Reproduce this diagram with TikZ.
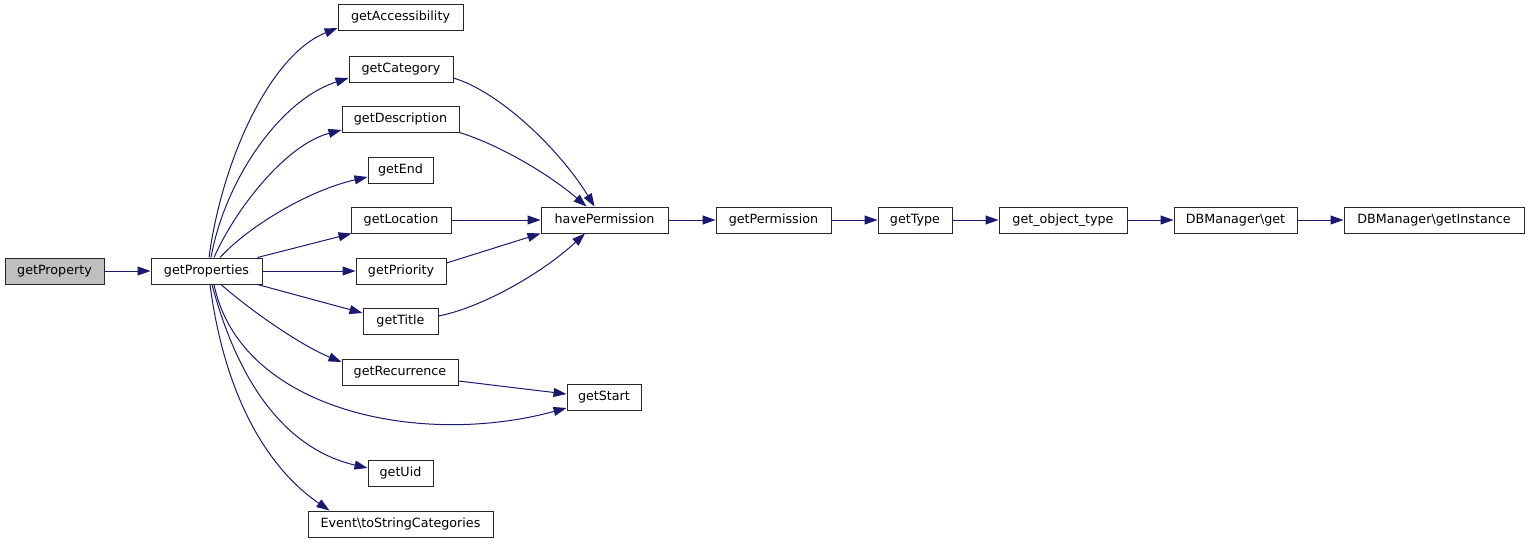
\documentclass[tikz,border=0pt]{standalone}
\usepackage{fontspec}
\setmainfont{DejaVu Sans}
\usetikzlibrary{arrows.meta,calc}
\definecolor{edgeblue}{HTML}{191970}
\definecolor{rootgray}{HTML}{BFBFBF}
\tikzset{
  fn/.style={draw=black!85, line width=1pt, rectangle, minimum height=26pt, inner sep=0pt, text height=9.6pt, text depth=2.4pt, font=\fontsize{12.7}{15}\selectfont, fill=white},
  call/.style={draw=edgeblue, line width=1pt, -{Triangle[length=13pt,width=9pt]}, fill=none},
}
\begin{document}
\begin{tikzpicture}[x=1pt,y=-1pt]
\useasboundingbox (0,0) rectangle (1529,544);
\node[fn, fill=rootgray, minimum width=99pt] (gprop) at (54.5,271) {getProperty};
\node[fn, minimum width=111pt] (gps) at (206.5,271) {getProperties};
\node[fn, minimum width=125pt] (gacc) at (400.5,17) {getAccessibility};
\node[fn, minimum width=104pt] (gcat) at (401,69) {getCategory};
\node[fn, minimum width=117pt] (gdesc) at (400.5,119) {getDescription};
\node[fn, minimum width=65pt] (gend) at (400.5,170) {getEnd};
\node[fn, minimum width=100pt] (gloc) at (401,220) {getLocation};
\node[fn, minimum width=90pt] (gpri) at (401,271) {getPriority};
\node[fn, minimum width=75pt] (gtit) at (400.5,321) {getTitle};
\node[fn, minimum width=116pt] (grec) at (400,372) {getRecurrence};
\node[fn, minimum width=74pt] (gstart) at (604,397) {getStart};
\node[fn, minimum width=65pt] (guid) at (400.5,473) {getUid};
\node[fn, minimum width=185pt] (gevt) at (400.5,524) {Event\textbackslash toStringCategories};
\node[fn, minimum width=127pt] (hperm) at (604.5,220) {havePermission};
\node[fn, minimum width=115pt] (gperm) at (773.5,220) {getPermission};
\node[fn, minimum width=74pt] (gtype) at (915,220) {getType};
\node[fn, minimum width=128pt] (gobj) at (1063,220) {get\_object\_type};
\node[fn, minimum width=123pt] (dbget) at (1235.5,220) {DBManager\textbackslash get};
\node[fn, minimum width=180pt] (dbinst) at (1434,220) {DBManager\textbackslash getInstance};

\draw[call] (gprop) -- (gps);
% fan upward
\draw[call] ($(gps.north)+(2.5,0)$) .. controls (222,160) and (270,55) .. ($(gacc.west)+(0,11)$);
\draw[call] ($(gps.north)+(4.5,0)$) .. controls (225,180) and (280,100) .. ($(gcat.west)+(0,9)$);
\draw[call] ($(gps.north)+(7.5,0)$) .. controls (235,210) and (285,145) .. ($(gdesc.west)+(0,11)$);
\draw[call] ($(gps.north)+(13.5,0)$) .. controls (250,225) and (310,190) .. ($(gend.west)+(0,7)$);
\draw[call] ($(gps.north east)+(-5,0)$) -- ($(gloc.south west)+(1,0)$);
\draw[call] (gps.east) -- (gpri.west);
\draw[call] ($(gps.south east)+(-5,0)$) -- ($(gtit.west)+(0,-8)$);
% fan downward
\draw[call] ($(gps.south)+(14.5,0)$) .. controls (250,310) and (300,345) .. ($(grec.west)+(0,-10)$);
\draw[call] ($(gps.south)+(7.5,0)$) .. controls (240,410) and (420,448) .. ($(gstart.west)+(0,11)$);
\draw[call] ($(gps.south)+(5.5,0)$) .. controls (240,390) and (290,450) .. ($(guid.west)+(0,-5)$);
\draw[call] ($(gps.south)+(3.5,0)$) .. controls (225,400) and (270,470) .. ($(gevt.north west)+(22,0)$);
% into havePermission
\draw[call] ($(gcat.east)+(0,9)$) .. controls (500,92) and (560,150) .. ($(hperm.north)+(-10,0)$);
\draw[call] (gdesc.south east) .. controls (500,145) and (550,175) .. ($(hperm.north)+(-18,0)$);
\draw[call] (gloc.east) -- (hperm.west);
\draw[call] ($(gpri.east)+(0,-8)$) -- (hperm.south west);
\draw[call] ($(gtit.east)+(0,-5)$) .. controls (480,308) and (540,275) .. ($(hperm.south)+(-19.5,0)$);
\draw[call] ($(grec.east)+(0,9)$) -- ($(gstart.west)+(0,-3)$);
% chain
\draw[call] (hperm) -- (gperm);
\draw[call] (gperm) -- (gtype);
\draw[call] (gtype) -- (gobj);
\draw[call] (gobj) -- (dbget);
\draw[call] (dbget) -- (dbinst);
\end{tikzpicture}
\end{document}
